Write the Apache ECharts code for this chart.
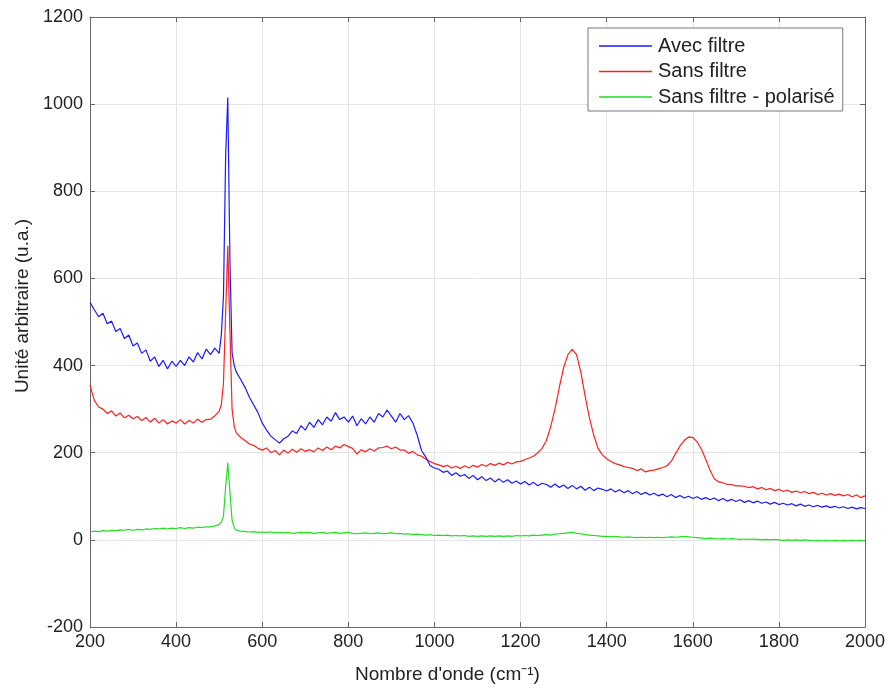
<!DOCTYPE html>
<html><head><meta charset="utf-8">
<script src="https://cdn.jsdelivr.net/npm/echarts@6/dist/echarts.min.js"></script>
<style>html,body{margin:0;padding:0;background:#fff}#c{width:893px;height:689px}</style>
</head><body><div id="c"></div>
<script>
const wavenumber = [200,210,220,230,240,250,260,270,280,290,300,310,320,330,340,350,360,370,380,390,400,410,420,430,440,450,460,470,480,490,500,
505,510,515,520,525,530,535,
540,550,560,570,580,590,600,610,620,630,640,650,660,670,680,690,700,710,720,730,740,750,760,770,780,790,800,810,820,830,840,850,860,870,880,890,900,910,920,930,940,950,960,970,980,990,
1000,1010,1020,1030,1040,1050,1060,1070,1080,1090,1100,1110,1120,1130,1140,1150,1160,1170,1180,1190,1200,1210,1220,1230,1240,1250,1260,1270,1280,1290,1300,1310,1320,1330,1340,1350,1360,1370,1380,1390,1400,1410,1420,1430,1440,1450,1460,1470,1480,1490,1500,1510,1520,1530,1540,1550,1560,1570,1580,1590,1600,1610,1620,1630,1640,1650,1660,1670,1680,1690,1700,1710,1720,1730,1740,1750,1760,1770,1780,1790,1800,1810,1820,1830,1840,1850,1860,1870,1880,1890,1900,1910,1920,1930,1940,1950,1960,1970,1980,1990,2000];

const avecFiltre = [545,528,512,520,496,502,478,485,462,470,445,452,428,436,410,420,398,412,392,410,398,412,400,420,408,430,415,438,425,440,428,
470,560,880,1015,640,430,400,
385,368,350,328,310,292,268,252,238,230,222,232,238,250,244,262,252,270,258,276,264,282,272,292,276,282,270,284,262,278,266,282,270,290,282,298,284,270,290,276,285,268,240,205,190,170,
165,162,155,158,148,154,146,150,141,148,
138,145,136,142,133,140,132,138,130,135,
128,134,126,132,124,130,127,121,128,120,
126,118,125,117,123,114,121,113,119,116,
112,117,110,115,108,113,106,111,104,109,
103,107,101,105,99,104,97,102,96,100,
95,99,93,97,92,96,90,95,89,93,
88,92,86,90,85,89,84,87,82,86,
81,84,80,83,78,82,77,80,76,79,
75,78,74,77,73,76,72,75,71,74,
72];

const sansFiltre = [355,320,305,300,290,296,284,291,280,286,278,283,274,281,270,279,268,276,266,273,268,276,266,274,268,277,270,276,277,285,295,
310,360,520,675,480,300,260,
245,235,228,220,217,210,206,211,200,205,195,206,199,208,201,209,203,207,202,211,205,213,207,215,211,219,214,210,197,207,202,209,204,211,212,215,209,213,206,206,199,203,195,192,185,180,
175,172,168,171,165,169,164,170,165,171,167,173,169,175,171,176,172,178,174,179,180,184,188,192,200,210,228,260,300,350,395,425,437,425,385,330,280,240,210,195,186,180,175,172,168,166,164,159,163,156,159,160,163,166,170,180,198,215,228,236,235,225,208,185,160,140,133,131,127,127,124,124,123,120,122,117,120,115,118,113,116,111,114,109,112,108,111,106,109,104,107,103,106,102,105,101,104,99,103,97,101];

const sansFiltrePolarise = [18,20,19,21,20,22,21,23,22,24,22,24,23,25,24,26,25,27,25,27,26,28,26,28,27,29,28,30,30,32,35,
40,55,120,177,110,45,28,
22,20,19,18,19,17,18,17,18,16,17,16,17,15,16,17,16,17,15,16,17,15,16,17,15,16,17,15,14,15,16,14,15,16,14,15,16,14,15,13,14,12,13,12,11,12,
10,11,10,11,9,10,9,10,8,9,8,9,8,9,8,9,8,9,8,10,9,10,9,11,10,11,12,11,13,14,15,16,17,15,14,12,11,10,9,8,8,7,8,7,6,7,6,5,6,5,6,5,6,5,6,7,6,7,8,7,6,5,4,3,4,3,2,3,2,3,2,1,2,1,2,1,0,1,0,1,0,-1,0,-1,0,-1,0,-1,-2,-1,-2,-1,-2,-1,-2,-1,-2,-1,-2,-1,-2];

const seriesNames = ['Avec filtre','Sans filtre','Sans filtre - polarisé'];
const seriesColors = ['#1a1aff','#ff2020','#22dd22'];
const xTitle = "Nombre d'onde (cm\u207B\u00B9)";
const yTitle = 'Unité arbitraire (u.a.)';

function pairs(ys){ return wavenumber.map((x,i)=>[x, ys[i]]); }
const allData = [avecFiltre, sansFiltre, sansFiltrePolarise];

const chart = echarts.init(document.getElementById('c'), null, {renderer:'canvas'});
const font = 'Liberation Sans, Arial, sans-serif';
const plain = v => String(v);
chart.setOption({
  animation:false,
  backgroundColor:'#fff',
  grid:{left:90, right:28, top:17, bottom:62, show:false},
  legend:{
    orient:'vertical', left:588, top:28,
    data: seriesNames.map((n,i)=>({name:n, itemStyle:{color:seriesColors[i]}})),
    backgroundColor:'#fff', borderColor:'#777', borderWidth:1, borderRadius:0,
    padding:[8,8,4,11],
    itemWidth:53, itemHeight:18, itemGap:5.5,
    textStyle:{fontFamily:font, fontSize:20, color:'#222', padding:[0,0,0,1]},
    icon:'path://M0,8.5L53,8.5L53,10L0,10Z',
  },
  xAxis:[{
    type:'value', min:200, max:2000, interval:200, position:'bottom',
    axisLine:{show:true, onZero:false, lineStyle:{color:'#666', width:1}},
    axisTick:{show:true, inside:true, length:5, lineStyle:{color:'#666'}},
    axisLabel:{fontFamily:font, fontSize:18, color:'#222', margin:6, formatter:plain},
    splitLine:{show:true, lineStyle:{color:'#e4e4e4', width:1}},
  },{
    type:'value', min:200, max:2000, interval:200, position:'top',
    axisLine:{show:true, onZero:false, lineStyle:{color:'#666', width:1}},
    axisTick:{show:true, inside:true, length:5, lineStyle:{color:'#666'}},
    axisLabel:{show:false}, splitLine:{show:false},
  }],
  yAxis:[{
    type:'value', min:-200, max:1200, interval:200, position:'left',
    axisLine:{show:true, onZero:false, lineStyle:{color:'#666', width:1}},
    axisTick:{show:true, inside:true, length:5, lineStyle:{color:'#666'}},
    axisLabel:{fontFamily:font, fontSize:18, color:'#222', margin:7, formatter:plain},
    splitLine:{show:true, lineStyle:{color:'#e4e4e4', width:1}},
  },{
    type:'value', min:-200, max:1200, interval:200, position:'right',
    axisLine:{show:true, onZero:false, lineStyle:{color:'#666', width:1}},
    axisTick:{show:true, inside:true, length:5, lineStyle:{color:'#666'}},
    axisLabel:{show:false}, splitLine:{show:false},
  }],
  series: seriesNames.map((n,i)=>({
    name:n, type:'line', xAxisIndex:0, yAxisIndex:0,
    data: pairs(allData[i]),
    symbol:'none', smooth:false,
    lineStyle:{color:seriesColors[i], width:1.2},
    itemStyle:{color:seriesColors[i]},
    z: 3-i
  })),
  graphic:[
    {type:'text', left:355, top:665, style:{text:xTitle, font:'19px '+font, fill:'#222'}},
    {type:'text', x:13, y:306, rotation:Math.PI/2, style:{text:yTitle, font:'19px '+font, fill:'#222', align:'center', verticalAlign:'top'}},
  ]
});
</script></body></html>
